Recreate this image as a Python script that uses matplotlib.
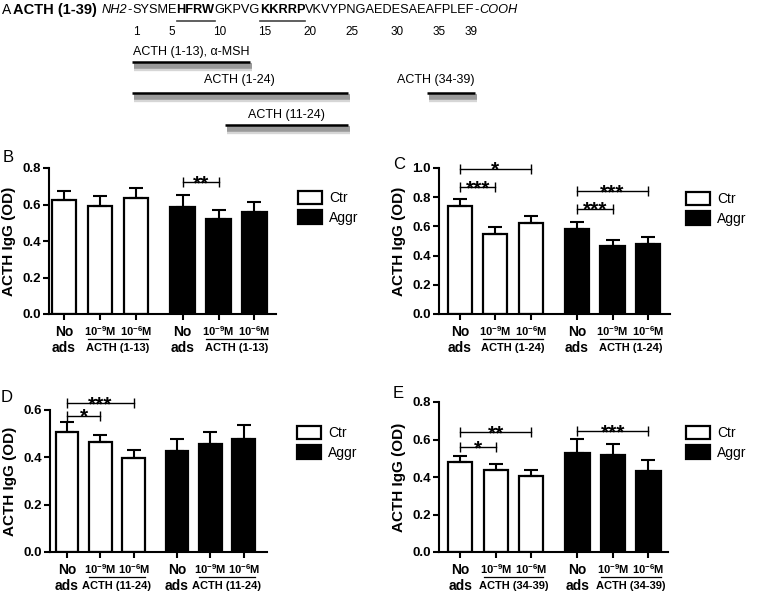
import matplotlib
matplotlib.use("Agg")
import matplotlib.pyplot as plt
import numpy as np
from matplotlib.lines import Line2D
from matplotlib.patches import Patch
import matplotlib.transforms as mtransforms

plt.rcParams['font.family'] = ['Liberation Sans', 'DejaVu Sans']
plt.rcParams['mathtext.fontset'] = 'custom'
plt.rcParams['mathtext.rm'] = 'Liberation Sans'
plt.rcParams['mathtext.bf'] = 'Liberation Sans:bold'

W, H = 760, 594

# ---- panel A data ----
sequence = "SYSMEHFRWGKPVGKKRRPVKVYPNGAEDESAEAFPLEF"
bold_runs = [(6, 9), (15, 19)]          # HFRW, KKRRP (underlined, bold)
numbered = [1, 5, 10, 15, 20, 25, 30, 35, 39]
fragments = ["ACTH (1-13), \u03b1-MSH", "ACTH (1-24)", "ACTH (34-39)", "ACTH (11-24)"]
frag_start = [1, 1, 34, 11]
frag_end = [13, 24, 39, 24]

# ---- bar panels data ----
groups = ["Ctr", "Aggr"]
conc_labels = ["No\nads", r"10$^{\mathbf{-9}}$M", r"10$^{\mathbf{-6}}$M"]
peptides = ["ACTH (1-13)", "ACTH (1-24)", "ACTH (11-24)", "ACTH (34-39)"]

means_B = [0.626, 0.590, 0.637, 0.588, 0.519, 0.561]
err_B = [0.050, 0.057, 0.053, 0.062, 0.049, 0.055]
means_C = [0.737, 0.549, 0.625, 0.583, 0.464, 0.480]
err_C = [0.053, 0.048, 0.048, 0.048, 0.044, 0.046]
means_D = [0.508, 0.463, 0.397, 0.428, 0.456, 0.479]
err_D = [0.040, 0.030, 0.034, 0.051, 0.051, 0.056]
means_E = [0.480, 0.437, 0.404, 0.528, 0.517, 0.430]
err_E = [0.032, 0.031, 0.035, 0.073, 0.061, 0.062]

# significance: (bar i, bar j, height, stars)
sig_B = [(3, 4, 0.723, "**")]
sig_C = [(0, 2, 0.995, "*"), (0, 1, 0.867, "***"), (3, 5, 0.84, "***"), (3, 4, 0.72, "***")]
sig_D = [(0, 2, 0.628, "***"), (0, 1, 0.576, "*")]
sig_E = [(0, 2, 0.640, "**"), (0, 1, 0.560, "*"), (3, 5, 0.644, "***")]

positions = np.array([0, 1, 2, 3.3, 4.3, 5.3])

fig = plt.figure(figsize=(W / 100, H / 100), dpi=100)
renderer = fig.canvas.get_renderer()


def px(x, y):
    # pixel (from top-left) -> figure fraction
    return x / W, 1 - y / H


def text_width(s, **kw):
    if not s:
        return 0.0
    t = fig.text(0, 0, s, **kw)
    w = t.get_window_extent(renderer).width
    t.remove()
    return w


# ---------------- panel A ----------------
SEQ_FS = 9.2
fig.text(*px(2, 10), "A", va="center", ha="left", fontsize=10)
fig.text(*px(13, 10), "ACTH (1-39)", va="center", ha="left", fontsize=10.5, fontweight="bold")

# split the sequence into plain / bold pieces
pieces = [("NH2", dict(style="italic"), None), ("-", {}, None)]
i = 1
cuts = []
for a, b in bold_runs:
    if i < a:
        cuts.append((i, a - 1, False))
    cuts.append((a, b, True))
    i = b + 1
cuts.append((i, len(sequence), False))
for a, b, isbold in cuts:
    pieces.append((sequence[a - 1:b], dict(fontweight="bold") if isbold else {}, a))
pieces.append(("-", {}, None))
pieces.append(("COOH", dict(style="italic"), None))

res_left = {}
res_right = {}
x = 102.0
for s, kw, first in pieces:
    fig.text(*px(x, 10), s, va="center", ha="left", fontsize=SEQ_FS, **kw)
    if first is not None:
        for k in range(len(s)):
            res_left[first + k] = x + text_width(s[:k], fontsize=SEQ_FS, **kw)
            res_right[first + k] = x + text_width(s[:k + 1], fontsize=SEQ_FS, **kw)
    x += text_width(s, fontsize=SEQ_FS, **kw)

for a, b in bold_runs:
    x0, x1 = res_left[a], res_right[b]
    fig.add_artist(Line2D([x0 / W, x1 / W], [1 - 21 / H] * 2, color="#444444", lw=1.2))

for n in numbered:
    c = (res_left[n] + res_right[n]) / 2
    fig.text(*px(c, 32), str(n), ha="center", va="center", fontsize=8.5)

frag_line_y = [62, 93, 93, 125]
frag_text_y = [52, 80, 80, 115]
for lab, s, e, ly, ty in zip(fragments, frag_start, frag_end, frag_line_y, frag_text_y):
    x0, x1 = res_left[s], res_right[e]
    for off, lw, col in [(4.5, 6, "#d6d6d6"), (4, 4, "#9a9a9a")]:
        fig.add_artist(Line2D([(x0 + 2) / W, (x1 + 2) / W], [1 - (ly + off) / H] * 2,
                              color=col, lw=lw, solid_capstyle="butt"))
    fig.add_artist(Line2D([x0 / W, x1 / W], [1 - ly / H] * 2, color="black", lw=1.8,
                          solid_capstyle="butt"))
    if s == 34:
        fig.text(*px(x1, ty), lab, ha="right", va="center", fontsize=9)
    else:
        fig.text(*px((x0 + x1) / 2, ty), lab, ha="center", va="center", fontsize=9)


# ---------------- bar panels ----------------
def bar_panel(rect, means, errs, sigs, ymax, peptide, xlim, letter, letter_xy, leg_xy):
    l, t, r, b = rect
    ax = fig.add_axes([l / W, 1 - b / H, (r - l) / W, (b - t) / H])
    colors = ["white"] * 3 + ["black"] * 3
    ax.bar(positions, means, width=0.68, color=colors, edgecolor="black", linewidth=1.6, zorder=2)
    ax.errorbar(positions, means, yerr=[np.zeros(6), errs], fmt="none", ecolor="black",
                elinewidth=1.5, capsize=5, capthick=1.5, zorder=3)
    ax.set_xlim(*xlim)
    ax.set_ylim(0, ymax)
    ticks = np.arange(0, ymax + 0.001, 0.2)
    ax.set_yticks(ticks)
    ax.set_yticklabels([f"{v:.1f}" for v in ticks], fontweight="bold", fontsize=9.5)
    ax.set_xticks(positions)
    ax.set_xticklabels([])
    for s in ["top", "right"]:
        ax.spines[s].set_visible(False)
    for s in ["left", "bottom"]:
        ax.spines[s].set_linewidth(1.5)
    ax.tick_params(axis="both", direction="out", length=4, width=1.5, pad=2)
    ax.set_ylabel("ACTH IgG (OD)", fontweight="bold", fontsize=11, labelpad=4)

    trans = mtransforms.blended_transform_factory(ax.transData, ax.transAxes)
    for g in range(2):
        p = positions[g * 3:(g + 1) * 3]
        ax.annotate("No", (p[0], 0), xycoords=trans, xytext=(0, -13), textcoords="offset points",
                    ha="center", va="center", fontweight="bold", fontsize=10)
        ax.annotate("ads", (p[0], 0), xycoords=trans, xytext=(0, -24.5), textcoords="offset points",
                    ha="center", va="center", fontweight="bold", fontsize=10)
        for k in (1, 2):
            ax.annotate(conc_labels[k], (p[k], 0), xycoords=trans, xytext=(0, -12.5),
                        textcoords="offset points", ha="center", va="center",
                        fontweight="bold", fontsize=8)
        off = mtransforms.offset_copy(trans, fig=fig, y=-18, units="points")
        ax.add_line(Line2D([p[1] - 0.34, p[2] + 0.34], [0, 0], transform=off, color="black",
                           lw=0.9, clip_on=False))
        ax.annotate(peptide, ((p[1] + p[2]) / 2, 0), xycoords=trans, xytext=(0, -24.5),
                    textcoords="offset points", ha="center", va="center",
                    fontweight="bold", fontsize=8)

    for i, j, h, stars in sigs:
        ax.plot([positions[i], positions[j]], [h, h], color="black", lw=1.0,
                marker="|", markersize=7, markeredgewidth=1.0, clip_on=False, zorder=4)
        ax.annotate(stars, ((positions[i] + positions[j]) / 2, h), xytext=(0, -5),
                    textcoords="offset points", ha="center", va="baseline",
                    fontsize=15, fontweight="bold", annotation_clip=False)

    fig.text(*px(*letter_xy), letter, ha="center", va="center", fontsize=12)
    handles = [Patch(facecolor="white", edgecolor="black", linewidth=1.6),
               Patch(facecolor="black", edgecolor="black", linewidth=1.6)]
    fig.legend(handles, groups, loc="upper left", bbox_to_anchor=px(*leg_xy),
               frameon=False, fontsize=10, handlelength=1.75, handleheight=1.1,
               handletextpad=0.5, labelspacing=0.35, borderpad=0, borderaxespad=0)
    return ax


bar_panel((49, 168, 276, 314), means_B, err_B, sig_B, 0.8, peptides[0], (-0.42, 5.9),
          "B", (8, 158), (298, 191))
bar_panel((439, 168, 670, 314), means_C, err_C, sig_C, 1.0, peptides[1], (-0.59, 5.92),
          "C", (399, 164), (686, 192))
bar_panel((50, 410, 267, 552), means_D, err_D, sig_D, 0.6, peptides[2], (-0.51, 6.0),
          "D", (7, 398), (297, 426))
bar_panel((439, 402, 668, 552), means_E, err_E, sig_E, 0.8, peptides[3], (-0.6, 5.85),
          "E", (398, 394), (686, 426))

fig.savefig("out.png", dpi=100)
